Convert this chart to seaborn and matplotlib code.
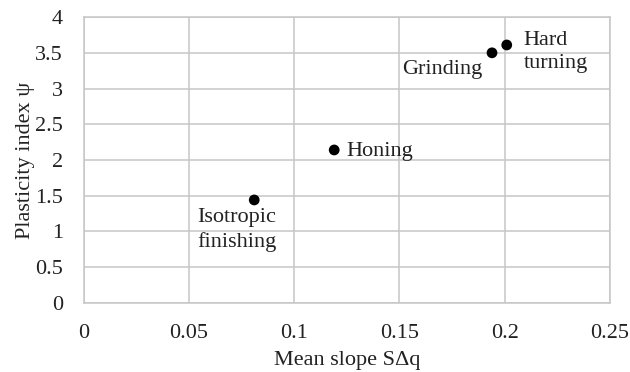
import numpy as np
import pandas as pd
from matplotlib import pyplot as plt
import seaborn as sns

# values
processes = ['Isotropic\nfinishing', 'Honing', 'Grinding', 'Hard\nturning']
mean_slope = [0.081, 0.119, 0.194, 0.201]
plasticity = [1.44, 2.14, 3.50, 3.61]
x_ticks = [0, 0.05, 0.1, 0.15, 0.2, 0.25]
y_ticks = [0, 0.5, 1, 1.5, 2, 2.5, 3, 3.5, 4]

df = pd.DataFrame({'process': processes, 'slope': mean_slope, 'psi': plasticity})

sns.set_style('white')
plt.rcParams['font.family'] = ['Liberation Serif', 'DejaVu Serif']
fs = 16

fig, ax = plt.subplots(figsize=(6.3, 3.72), dpi=100)
fig.subplots_adjust(left=0.133, right=0.968, top=0.954, bottom=0.186)

sns.scatterplot(data=df, x='slope', y='psi', color='black', s=60, edgecolor='none', ax=ax, zorder=3)

# label offsets (points) and alignment per point
offsets = [(-41, -6, 'left', 'top'), (9, -1, 'left', 'center'),
           (-7, -5, 'right', 'top'), (12, 10, 'left', 'top')]
for (_, r), (dx, dy, ha, va) in zip(df.iterrows(), offsets):
    ax.annotate(r['process'], (r['slope'], r['psi']), xytext=(dx, dy),
                textcoords='offset points', ha=ha, va=va, fontsize=fs,
                linespacing=1.3, color='#222222')

ax.set_xlim(0, 0.25)
ax.set_ylim(0, 4)
ax.set_xticks(x_ticks)
ax.set_xticklabels([f'{t:g}' for t in x_ticks])
ax.set_yticks(y_ticks)
ax.set_yticklabels([f'{t:g}' for t in y_ticks])
ax.grid(True, color='#c6c6c6', linewidth=1.1)
ax.set_axisbelow(True)
for s in ax.spines.values():
    s.set_color('#c6c6c6')
    s.set_linewidth(1.1)
ax.tick_params(length=0, labelsize=fs, colors='#222222')
ax.tick_params(axis='x', pad=15)
ax.tick_params(axis='y', pad=15)
ax.set_xlabel('Mean slope S\u0394q', fontsize=fs, labelpad=6, color='#222222')
ax.set_ylabel('Plasticity index \u03c8', fontsize=fs, labelpad=0, color='#222222')

plt.savefig('out.png', dpi=100)
